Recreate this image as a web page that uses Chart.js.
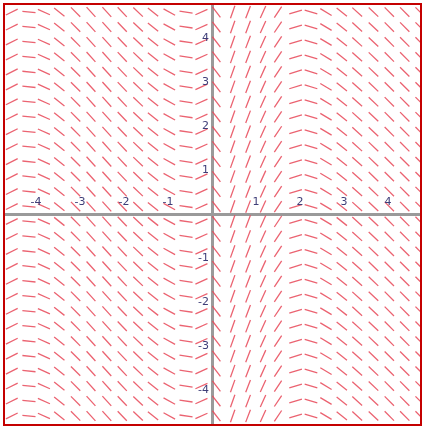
<!DOCTYPE html>
<html>
<head>
<meta charset="utf-8">
<script src="https://cdn.jsdelivr.net/npm/chart.js@4/dist/chart.umd.min.js"></script>
<style>
html,body{margin:0;padding:0;background:#fff;}
#wrap{width:424px;height:428px;position:relative;}
</style>
</head>
<body>
<div id="wrap"><canvas id="c" width="424" height="428"></canvas></div>
<script>
// Slope-field sample columns (x), rows (y) and the slope read for each column
const columnX = [-4.55,-4.16,-3.82,-3.47,-3.10,-2.75,-2.39,-2.04,-1.68,-1.34,-0.97,-0.59,-0.24,
                 0.10,0.47,0.82,1.16,1.50,1.90,2.25,2.59,2.95,3.30,3.67,4.03,4.38,4.73];
const slopes  = [0.5,-0.1,-0.45,-0.8,-1.0,-1.1,-1.1,-1.05,-0.95,-0.8,-0.55,-0.15,0.45,
                 -1.3,2.8,2.6,2.2,1.5,0.3,-0.3,-0.6,-0.8,-0.9,-0.95,-1.0,-1.0,-1.0];
const rowY = [4.59,4.25,3.91,3.57,3.23,2.89,2.55,2.21,1.87,1.53,1.19,0.85,0.51,0.17,
              -0.17,-0.51,-0.85,-1.19,-1.53,-1.87,-2.21,-2.55,-2.89,-3.23,-3.57,-3.91,-4.25,-4.59];
const xTickLabels = [-4,-3,-2,-1,1,2,3,4];
const yTickLabels = [-4,-3,-2,-1,1,2,3,4];

const HALF = 0.15; // half segment length in data units
const pts = [];
columnX.forEach((cx, i) => {
  const m = slopes[i];
  const dx = HALF / Math.sqrt(1 + m * m);
  rowY.forEach(cy => {
    pts.push({x: cx - dx, y: cy - m * dx});
    pts.push({x: cx + dx, y: cy + m * dx});
    pts.push({x: cx, y: null});
  });
});

const decor = {
  id: 'decor',
  beforeDatasetsDraw(chart) {
    const {ctx, scales: {x, y}, chartArea: a} = chart;
    ctx.save();
    ctx.strokeStyle = '#9a9a9a';
    ctx.lineWidth = 3;
    ctx.beginPath();
    const x0 = Math.round(x.getPixelForValue(0)) + 0.5;
    const y0 = Math.round(y.getPixelForValue(0)) + 0.5;
    ctx.moveTo(a.left, y0); ctx.lineTo(a.right, y0);
    ctx.moveTo(x0, a.top); ctx.lineTo(x0, a.bottom);
    ctx.stroke();
    ctx.restore();
  },
  afterDatasetsDraw(chart) {
    const {ctx, scales: {x, y}, chartArea: a} = chart;
    ctx.save();
    ctx.fillStyle = '#3e3e78';
    ctx.font = '11px "DejaVu Sans", sans-serif';
    const x0 = x.getPixelForValue(0);
    const y0 = y.getPixelForValue(0);
    ctx.textAlign = 'center';
    ctx.textBaseline = 'alphabetic';
    xTickLabels.forEach(v => ctx.fillText(String(v), x.getPixelForValue(v), y0 - 9));
    ctx.textAlign = 'right';
    ctx.textBaseline = 'middle';
    yTickLabels.forEach(v => ctx.fillText(String(v), x0 - 3, y.getPixelForValue(v)));
    ctx.strokeStyle = '#c40000';
    ctx.lineWidth = 2;
    ctx.strokeRect(a.left, a.top, a.right - a.left, a.bottom - a.top);
    ctx.restore();
  }
};

new Chart(document.getElementById('c'), {
  type: 'scatter',
  data: {
    datasets: [{
      data: pts,
      showLine: true,
      spanGaps: false,
      borderColor: 'rgba(232,72,88,0.85)',
      borderWidth: 1.3,
      pointRadius: 0,
      pointHoverRadius: 0
    }]
  },
  options: {
    responsive: false,
    animation: false,
    events: [],
    layout: {padding: {left: 4, top: 4, right: 3, bottom: 3}},
    plugins: {legend: {display: false}, tooltip: {enabled: false}},
    scales: {
      x: {type: 'linear', display: false, min: -4.727, max: 4.75},
      y: {type: 'linear', display: false, min: -4.795, max: 4.773}
    }
  },
  plugins: [decor]
});
</script>
</body>
</html>
